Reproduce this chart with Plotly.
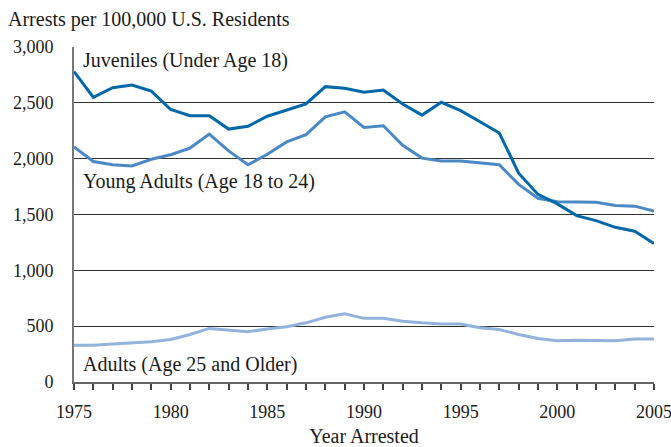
import plotly.graph_objects as go

years = list(range(1975, 2006))
juveniles = [2780, 2550, 2635, 2660, 2605, 2440, 2385, 2385, 2265, 2290,
             2380, 2435, 2490, 2645, 2630, 2595, 2615, 2490, 2390, 2505,
             2430, 2330, 2230, 1870, 1680, 1595, 1490, 1445, 1385, 1350, 1240]
young_adults = [2105, 1975, 1945, 1935, 1995, 2035, 2095, 2220, 2070, 1945,
                2040, 2150, 2215, 2375, 2420, 2280, 2295, 2120, 2005, 1980,
                1980, 1965, 1945, 1770, 1645, 1615, 1615, 1610, 1580, 1575, 1530]
adults = [330, 330, 340, 350, 360, 380, 425, 480, 465, 450,
          475, 495, 530, 580, 610, 570, 570, 545, 530, 520,
          520, 485, 470, 425, 390, 370, 375, 370, 370, 385, 385]

y_ticks = [0, 500, 1000, 1500, 2000, 2500, 3000]
y_tick_labels = ["0", "500", "1,000", "1,500", "2,000", "2,500", "3,000"]

FONT = "Liberation Serif"
TXT = "#1a1a1a"

fig = go.Figure()
fig.add_trace(go.Scatter(x=years, y=adults, mode="lines",
                         line=dict(color="#93b3dc", width=3), name="Adults"))
fig.add_trace(go.Scatter(x=years, y=young_adults, mode="lines",
                         line=dict(color="#4a89c6", width=3), name="Young Adults"))
fig.add_trace(go.Scatter(x=years, y=juveniles, mode="lines",
                         line=dict(color="#0067a8", width=3), name="Juveniles"))

annots = [
    dict(text="Juveniles (Under Age 18)", x=1975.35, y=2880),
    dict(text="Young Adults (Age 18 to 24)", x=1975.35, y=1800),
    dict(text="Adults (Age 25 and Older)", x=1975.35, y=160),
]
for a in annots:
    fig.add_annotation(text=a["text"], x=a["x"], y=a["y"], xref="x", yref="y",
                       xanchor="left", yanchor="middle", showarrow=False,
                       font=dict(family=FONT, size=20, color=TXT))

fig.add_annotation(text="Arrests per 100,000 U.S. Residents", xref="paper", yref="paper",
                   x=-0.118, y=1.042, xanchor="left", yanchor="bottom", showarrow=False,
                   font=dict(family=FONT, size=20, color=TXT))

fig.update_layout(
    width=671, height=447,
    margin=dict(l=74, r=17, t=47, b=65, autoexpand=False),
    plot_bgcolor="white", paper_bgcolor="white",
    showlegend=False,
    font=dict(family=FONT, size=20, color=TXT),
    xaxis=dict(range=[1975, 2005], tickmode="linear", tick0=1975, dtick=5,
               ticks="outside", ticklen=6, tickcolor="#444", tickwidth=1.5,
               minor=dict(dtick=1, ticks="outside", ticklen=6, tickcolor="#444", tickwidth=1.5),
               showgrid=False, showline=True, linecolor="#666", linewidth=2,
               zeroline=False, automargin=False, ticklabeloverflow="allow",
               ticklabelstandoff=6,
               title=dict(text="Year Arrested", font=dict(family=FONT, size=20, color=TXT), standoff=8),
               tickfont=dict(family=FONT, size=18, color=TXT)),
    yaxis=dict(range=[0, 3000], tickvals=y_ticks, ticktext=y_tick_labels,
               showgrid=True, gridcolor="#333", gridwidth=1.2,
               showline=True, linecolor="#777", linewidth=2,
               zeroline=False, ticks="", ticklabelstandoff=15, automargin=False,
               tickfont=dict(family=FONT, size=18, color=TXT)),
)

fig.write_html("out.html", config={"displayModeBar": False},
               post_script="document.body.style.margin='0';")
